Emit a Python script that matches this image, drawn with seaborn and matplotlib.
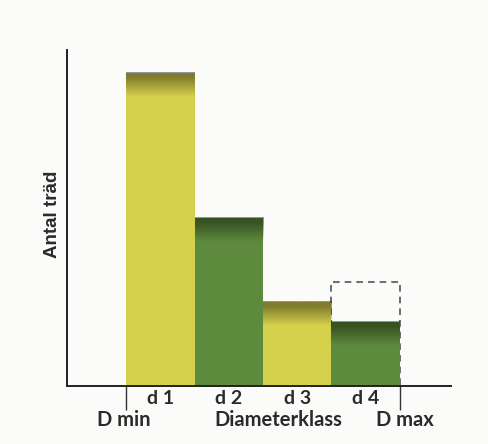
import matplotlib
matplotlib.use("Agg")
import matplotlib.pyplot as plt
import seaborn as sns
import numpy as np

# data (units ~ pixels of bar height)
classes = ["d 1", "d 2", "d 3", "d 4"]
counts = [313, 168, 84, 64]
expected_d4 = 104          # dashed outline over d 4
colors = ["#d5d14c", "#5e8a3d", "#d5d14c", "#5e8a3d"]
edge_labels = ["D min", "D max"]
xlabel = "Diameterklass"
ylabel = "Antal träd"

sns.set_style("white")
plt.rcParams["font.family"] = ["Lato", "DejaVu Sans"]

fig = plt.figure(figsize=(4.89, 4.44), dpi=100, facecolor="#fbfbf9")
ax = fig.add_axes([0.137, 0.1306, 0.785, 0.757])
ax.set_facecolor("#fbfbf9")

# dashed outline first so bars cover it
ax.bar(3, expected_d4, width=1, fill=False, edgecolor="#555555",
       linestyle=(0, (4, 3)), linewidth=1.2, zorder=1)

sns.barplot(x=classes, y=counts, hue=classes, palette=colors, width=1,
            saturation=1, legend=False, linewidth=0, ax=ax, zorder=2)

# darker gradient at the top of each bar
grad = np.zeros((40, 1, 4))
grad[..., 3] = np.concatenate([np.full(8, 0.4), np.linspace(0.4, 0.0, 32)])[:, None]
for p in ax.patches[1:]:
    x0, w, h = p.get_x(), p.get_width(), p.get_height()
    ax.imshow(grad, extent=(x0, x0 + w, h - 24, h), aspect="auto",
              origin="upper", zorder=3, interpolation="bilinear")

ax.set_xlim(-1.37, 4.25)
ax.set_ylim(0, 336)

for s in ["top", "right"]:
    ax.spines[s].set_visible(False)
for s in ["left", "bottom"]:
    ax.spines[s].set_color("#222222")
    ax.spines[s].set_linewidth(1.4)

ax.set_yticks([])
# boundary ticks at D min / D max
ax.set_xticks([-0.5, 3.5])
ax.set_xticklabels([])
ax.tick_params(axis="x", which="major", bottom=True, length=17.5, width=1.0,
               color="#333333", direction="out")
ax.set_xticks(range(len(classes)), minor=True)
ax.set_xticklabels(classes, minor=True, fontsize=14, fontweight="bold",
                   color="#2a2a2a")
ax.tick_params(axis="x", which="minor", bottom=True, length=0, pad=3)
ax.set_xlabel("")
ax.set_ylabel("")

trans = ax.get_xaxis_transform()
ax.text(-0.54, -0.1, edge_labels[0], transform=trans, ha="center", va="center",
        fontsize=14.5, fontweight="bold", color="#2a2a2a")
ax.text(3.58, -0.1, edge_labels[1], transform=trans, ha="center", va="center",
        fontsize=14.5, fontweight="bold", color="#2a2a2a")
ax.text(1.72, -0.1, xlabel, transform=trans, ha="center", va="center",
        fontsize=14.5, fontweight="bold", color="#2a2a2a")

fig.text(0.108, 0.518, ylabel, rotation=90, ha="center", va="center",
         fontsize=13.5, fontweight="bold", color="#2a2a2a",
         family=["Liberation Sans", "DejaVu Sans"])

fig.savefig("out.png", dpi=100, facecolor=fig.get_facecolor())
